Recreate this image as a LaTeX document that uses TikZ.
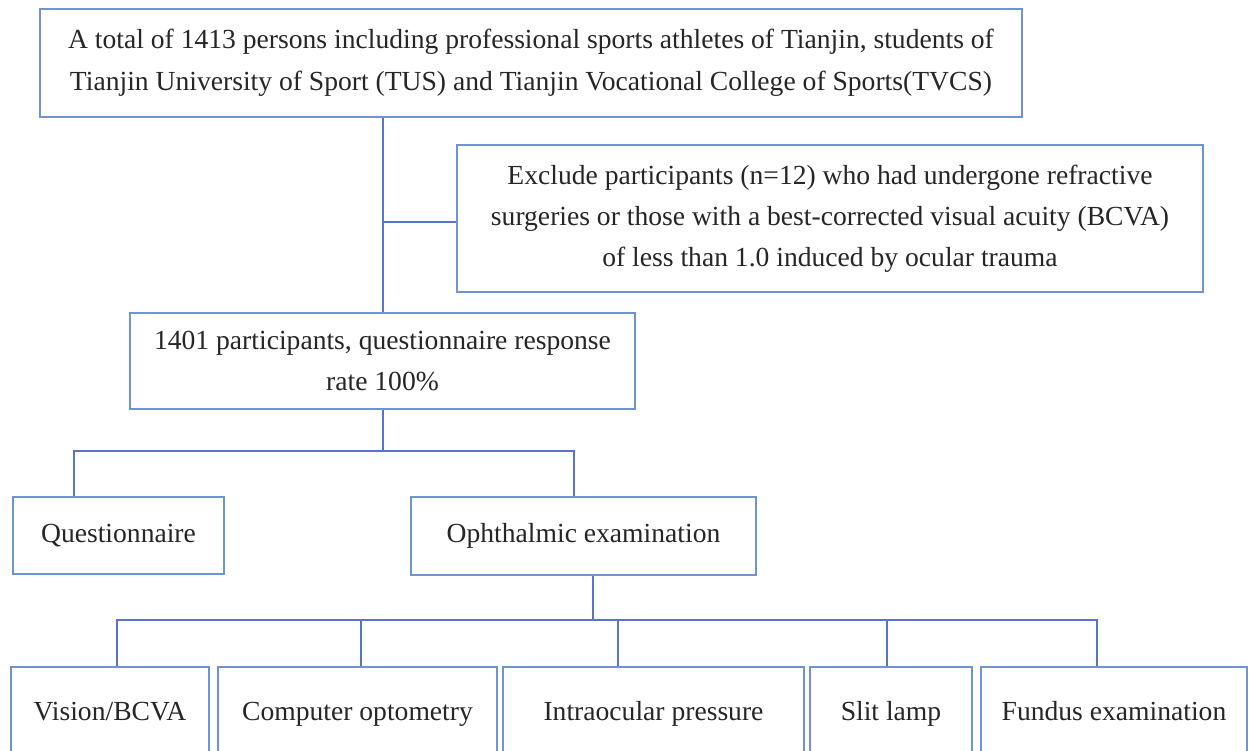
\documentclass[tikz,border=0pt]{standalone}
\usepackage{fontspec}
\setmainfont{Liberation Serif}
\definecolor{boxblue}{RGB}{112,148,208}
\definecolor{lineblue}{RGB}{88,116,204}
\tikzset{
  flowbox/.style={draw=boxblue, line width=1.1pt, rectangle, inner sep=0pt, align=center,
    font=\fontsize{13.8}{20.5}\selectfont, text=black!85},
  onebox/.style={flowbox, text height=9.6pt, text depth=3pt},
  link/.style={draw=lineblue, line width=1pt}
}
\begin{document}
\begin{tikzpicture}[x=0.5pt,y=-0.5pt]
\useasboundingbox (0,0) rectangle (1250,751);
\clip (0,0) rectangle (1250,751);
\fill[white] (0,0) rectangle (1250,751);
% boxes
\node[flowbox, minimum width=491pt, minimum height=54pt] (top) at (531,63)
  {\rule{0pt}{3pt}A total of 1413 persons including professional sports athletes of Tianjin, students of\\[0.5pt]
   Tianjin University of Sport (TUS) and Tianjin Vocational College of Sports(TVCS)};
\node[flowbox, minimum width=373pt, minimum height=73.5pt] (excl) at (830,218.5)
  {Exclude participants (n=12) who had undergone refractive\\
   surgeries or those with a best-corrected visual acuity (BCVA)\\
   of less than 1.0 induced by ocular trauma};
\node[flowbox, minimum width=252.5pt, minimum height=48pt] (p1401) at (382.5,361)
  {\rule{0pt}{3pt}1401 participants, questionnaire response\\ rate 100\%};
\node[onebox, minimum width=105.5pt, minimum height=38.5pt] (quest) at (118.5,535.5) {Questionnaire};
\node[onebox, minimum width=172.5pt, minimum height=39pt] (oph) at (583.5,536) {Ophthalmic examination};
\node[onebox, minimum width=99pt, minimum height=46.5pt] (vis) at (110,713.5) {Vision/BCVA};
\node[onebox, minimum width=139.5pt, minimum height=46.5pt] (comp) at (357.5,713.5) {Computer optometry};
\node[onebox, minimum width=150.5pt, minimum height=46.5pt] (iop) at (653.5,713.5) {Intraocular pressure};
\node[onebox, minimum width=81pt, minimum height=46.5pt] (slit) at (891,713.5) {Slit lamp};
\node[onebox, minimum width=133pt, minimum height=46.5pt] (fund) at (1114,713.5) {Fundus examination};
% junction coordinates
\coordinate (j1) at (383,222);
\coordinate (j2) at (383,451);
\coordinate (jq) at (74,451);
\coordinate (jo) at (574,451);
\coordinate (j3) at (593,620);
\coordinate (jv) at (117,620);
\coordinate (jc) at (361,620);
\coordinate (ji) at (618,620);
\coordinate (js) at (887,620);
\coordinate (jf) at (1097,620);
% connectors
\draw[link] (top.south -| j1) -- (p1401.north -| j1);
\draw[link] (j1) -- (excl.west |- j1);
\draw[link] (p1401.south -| j2) -- (j2);
\draw[link] (quest.north -| jq) -- (jq) -- (jo) -- (oph.north -| jo);
\draw[link] (oph.south -| j3) -- (j3);
\draw[link] (vis.north -| jv) -- (jv) -- (jf) -- (fund.north -| jf);
\draw[link] (jc) -- (comp.north -| jc);
\draw[link] (ji) -- (iop.north -| ji);
\draw[link] (js) -- (slit.north -| js);
\end{tikzpicture}
\end{document}
